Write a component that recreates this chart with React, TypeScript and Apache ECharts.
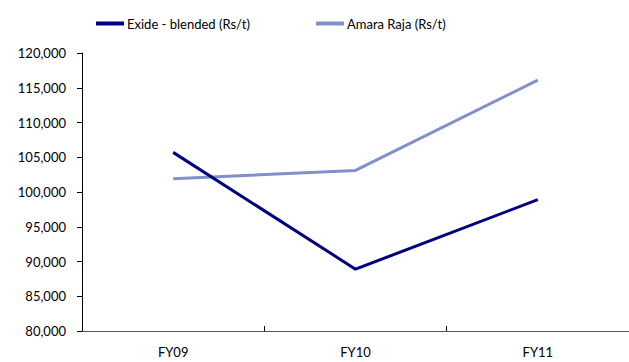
import React, { useEffect, useRef } from "react";
import * as echarts from "echarts";

const categories = ["FY09", "FY10", "FY11"];
const exideValues = [105700, 88900, 98900];
const amaraValues = [101900, 103100, 116100];
const seriesNames = ["Exide - blended (Rs/t)", "Amara Raja (Rs/t)"];

export default function App() {
  const ref = useRef<HTMLDivElement>(null);
  useEffect(() => {
    if (!ref.current) return;
    const chart = echarts.init(ref.current, null, { renderer: "svg" });
    const font = "Lato, 'Open Sans', sans-serif";
    chart.setOption({
      animation: false,
      backgroundColor: "#ffffff",
      legend: {
        left: 91,
        top: 12,
        icon: "rect",
        itemWidth: 28,
        itemHeight: 4,
        itemGap: 66,
        textStyle: { fontFamily: font, fontSize: 13, color: "#000", padding: [0, 0, 0, -2] },
        data: seriesNames,
      },
      grid: { left: 82, top: 53, width: 550, height: 278, containLabel: false },
      xAxis: {
        type: "category",
        data: categories,
        boundaryGap: true,
        axisLine: { lineStyle: { color: "#555", width: 1 } },
        axisTick: { show: true, length: 5, inside: true, lineStyle: { color: "#000" } },
        axisLabel: { fontFamily: font, fontSize: 13, color: "#000", margin: 14 },
        splitLine: { show: false },
      },
      yAxis: {
        type: "value",
        min: 80000,
        max: 120000,
        interval: 5000,
        axisLine: { show: true, lineStyle: { color: "#000", width: 1 } },
        axisTick: { show: true, length: 5, lineStyle: { color: "#000" } },
        axisLabel: {
          fontFamily: font,
          fontSize: 13,
          color: "#000",
          margin: 16,
          formatter: (v: number) => v.toLocaleString("en-US"),
        },
        splitLine: { show: false },
      },
      series: [
        {
          name: seriesNames[0],
          type: "line",
          data: exideValues,
          symbol: "none",
          lineStyle: { color: "#000080", width: 3 },
          itemStyle: { color: "#000080" },
          z: 3,
        },
        {
          name: seriesNames[1],
          type: "line",
          data: amaraValues,
          symbol: "none",
          lineStyle: { color: "#7F90CB", width: 3 },
          itemStyle: { color: "#7F90CB" },
          z: 2,
        },
      ],
    });
    return () => chart.dispose();
  }, []);
  return <div ref={ref} style={{ width: 629, height: 362, position: "absolute", left: 0, top: 0 }} />;
}
